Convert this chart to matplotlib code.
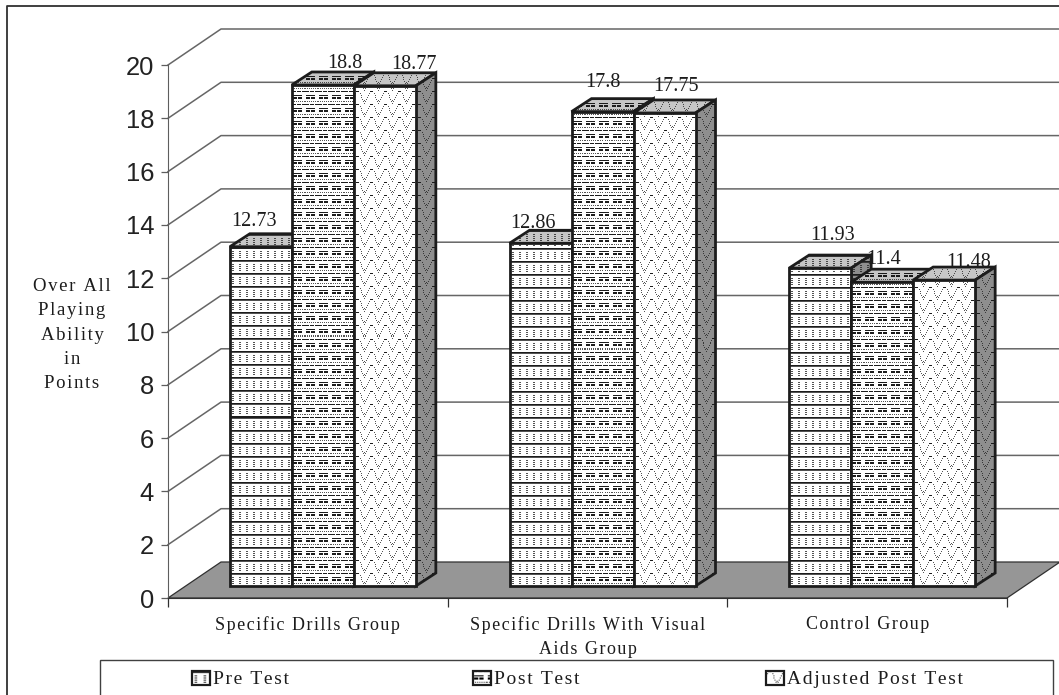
import numpy as np
import matplotlib
matplotlib.use('Agg')
import matplotlib.pyplot as plt
from matplotlib.patches import Polygon, Rectangle

# Data
groups = ['Specific Drills Group', 'Specific Drills With Visual\nAids Group', 'Control Group']
series = ['Pre Test', 'Post Test', 'Adjusted Post Test']
pre_test = [12.73, 12.86, 11.93]
post_test = [18.8, 17.8, 11.4]
adjusted_post = [18.77, 17.75, 11.48]
y_ticks = [0, 2, 4, 6, 8, 10, 12, 14, 16, 18, 20]
y_title = 'Over All\nPlaying\nAbility\nin\nPoints'

W, H = 1059, 695
AX_L, AX_R, AX_B, AX_T = 168, 1007, 598, 65
PX_X = (AX_R - AX_L) / 3.0    # pixels per category
PX_Y = (AX_B - AX_T) / 20.0   # pixels per point

SERIF = 'Liberation Serif'
SANS = 'Liberation Sans'
INK = '#1c1c1c'
FLOOR = '#969696'
TOP_BG = '#c6c6c6'
SIDE_BG = '#8e8e8e'

# fill patterns, one string per pixel row
TILE_PRE = [
    '#######',
    '+++++++',
    '.......',
    '.......',
    '..++...',
    '.......',
    '..++...',
    '.......',
    '..++...',
    '.......',
    '..++...',
    '.......',
    '.......',
]
TILE_POST = [
    '####.####.###',
    '.............',
    '.............',
    '.............',
    '.#########...',
    '.............',
    '.####.####...',
    '.####.####...',
    '.............',
    '.............',
    '+.+.+.+.+.+.+',
    '.............',
    '.............',
]
TILE_ADJ = [
    '..###.........',
    '..............',
    '.+....+.......',
    '..............',
    '+......+......',
    '..............',
    '.......+.....+',
    '..............',
    '........+...+.',
    '..........+...',
    '.........+.+..',
    '..............',
    '..........+...',
]
INK_LEVEL = {'.': 0.0, '+': 0.75, '#': 1.0}


def tile_ink(tile):
    return np.array([[INK_LEVEL[c] for c in row] for row in tile])


def spaced(s):
    # wide letter spacing used by the chart text
    return '\n'.join('\u200a'.join(line) for line in s.split('\n'))


fig = plt.figure(figsize=(W / 100, H / 100), dpi=100, facecolor='white')

# page layer in pixel coordinates: outer frame and legend
page = fig.add_axes([0, 0, 1, 1], zorder=5)
page.set_xlim(0, W)
page.set_ylim(H, 0)
page.axis('off')
page.patch.set_alpha(0)

ax = fig.add_axes([AX_L / W, 1 - AX_B / H, (AX_R - AX_L) / W, (AX_B - AX_T) / H], zorder=1)
ax.set_xlim(-0.5, 2.5)
ax.set_ylim(0, 20)
ax.patch.set_alpha(0)


def shift(x, y, dx_px, dy_px):
    # move a data point by an oblique depth offset given in pixels
    return (x + dx_px / PX_X, y - dy_px / PX_Y)


def textured_face(verts, tile, bg, ink=INK):
    poly = Polygon(verts, closed=True, facecolor='none', edgecolor=INK, lw=2.0,
                   joinstyle='miter', zorder=3, clip_on=False)
    xs = [v[0] for v in verts]
    ys = [v[1] for v in verts]
    x0, x1, y0, y1 = min(xs), max(xs), min(ys), max(ys)
    nx = max(int(round((x1 - x0) * PX_X)), 1)
    ny = max(int(round((y1 - y0) * PX_Y)), 1)
    mask = tile_ink(tile)
    mask = np.tile(mask, (ny // mask.shape[0] + 1, nx // mask.shape[1] + 1))
    mask = mask[-ny:, :nx]
    bg_rgb = np.array(matplotlib.colors.to_rgb(bg))
    ink_rgb = np.array(matplotlib.colors.to_rgb(ink))
    img = bg_rgb * (1 - mask[..., None]) + ink_rgb * mask[..., None]
    im = ax.imshow(img, extent=(x0, x1, y0, y1), origin='upper', aspect='auto',
                   interpolation='nearest', zorder=3, clip_on=True)
    ax.add_patch(poly)
    im.set_clip_path(poly)


# back wall, left wall and floor
WALL_DX, WALL_DY = 53, -36
for v in y_ticks[1:]:
    x_a, y_a = shift(-0.5, v, WALL_DX, WALL_DY)
    x_b, y_b = shift(2.5, v, WALL_DX, WALL_DY)
    ax.plot([-0.5, x_a, x_b], [v, y_a, y_b], color='#666666', lw=1.1, clip_on=False, zorder=1)

floor = [(-0.5, 0), (2.5, 0), shift(2.5, 0, WALL_DX, WALL_DY), shift(-0.5, 0, WALL_DX, WALL_DY)]
ax.add_patch(Polygon(floor, closed=True, facecolor=FLOOR, edgecolor='#303030', lw=0.9,
                     clip_on=False, zorder=2))

# bars as oblique boxes
BAR_W = 62 / PX_X
SET_DX, SET_DY = 15, -12
BOX_DX, BOX_DY = 20, -13
tiles = [TILE_PRE, TILE_POST, TILE_ADJ]
values = [pre_test, post_test, adjusted_post]
label_nudge = [[(-7, 25), (-8, 20), (12, 33)],
               [(22, 21), (0, 29), (1, 23)],
               [(29, 21), (11, 26), (24, 18)]]

for g in range(len(groups)):
    for s in range(len(series)):
        v = values[s][g]
        left = g + (s - 1.5) * BAR_W
        right = left + BAR_W
        fl = shift(left, 0, SET_DX, SET_DY)
        fr = shift(right, 0, SET_DX, SET_DY)
        tl = (fl[0], fl[1] + v)
        tr = (fr[0], fr[1] + v)
        tl_b = shift(tl[0], tl[1], BOX_DX, BOX_DY)
        tr_b = shift(tr[0], tr[1], BOX_DX, BOX_DY)
        br_b = shift(fr[0], fr[1], BOX_DX, BOX_DY)
        textured_face([tl, tr, tr_b, tl_b], tiles[s], TOP_BG)
        textured_face([fr, tr, tr_b, br_b], tiles[s], SIDE_BG)
        textured_face([fl, fr, tr, tl], tiles[s], 'white')
        nx, ny = label_nudge[s][g]
        ax.annotate(str(v), ((left + right) / 2 + SET_DX / PX_X, v + fl[1]),
                    xytext=(nx * 0.72, ny * 0.72), textcoords='offset points',
                    ha='center', va='center', family=SERIF, fontsize=14.5,
                    color=INK, zorder=6, annotation_clip=False)

ax.set_xlim(-0.5, 2.5)
ax.set_ylim(0, 20)

# axes
for side in ['top', 'right']:
    ax.spines[side].set_visible(False)
ax.spines['left'].set_color('#5e5e5e')
ax.spines['bottom'].set_color('#303030')
ax.set_yticks(y_ticks)
ax.tick_params(axis='y', length=5, width=0.9, color='#5e5e5e', pad=5, labelsize=18.4,
               labelcolor='#222222')
for lab in ax.get_yticklabels():
    lab.set_family(SANS)
ax.set_xticks([-0.5, 0.5, 1.5, 2.5])
ax.set_xticklabels([])
ax.set_xticks([0, 1, 2], minor=True)
ax.set_xticklabels([spaced(g) for g in groups], minor=True, family=SERIF, fontsize=13,
                   color=INK, linespacing=1.55)
ax.tick_params(axis='x', which='major', length=6.5, width=0.9, color='#303030')
ax.tick_params(axis='x', which='minor', length=0, pad=13)

ax.set_ylabel(spaced(y_title), rotation=0, family=SERIF, fontsize=13.5, color=INK,
              linespacing=1.55, ha='center', va='center')
ax.yaxis.set_label_coords((72 - AX_L) / (AX_R - AX_L), (AX_B - 335) / (AX_B - AX_T))

# outer frame and legend
page.plot([7, 7, W], [H, 5.5, 5.5], color='#303030', lw=1.3, clip_on=False)
page.add_patch(Rectangle((100, 660), 953, 40, facecolor='white', edgecolor='#404040', lw=1.0))
legend_x = [192, 473, 766]
for name, lx, tile in zip(series, legend_x, tiles):
    mask = tile_ink(tile)
    page.imshow(1 - np.tile(mask, (2, 2))[:13, :17], cmap='gray', vmin=0, vmax=1, aspect='auto',
                extent=(lx, lx + 18, 685, 671), interpolation='bilinear', zorder=3)
    page.add_patch(Rectangle((lx, 671), 18, 14, facecolor='none', edgecolor=INK, lw=1.6, zorder=4))
    page.text(lx + 21, 679, spaced(name), family=SERIF, fontsize=14, color=INK, va='center')
page.set_xlim(0, W)
page.set_ylim(H, 0)

fig.savefig('out.png', dpi=100)
